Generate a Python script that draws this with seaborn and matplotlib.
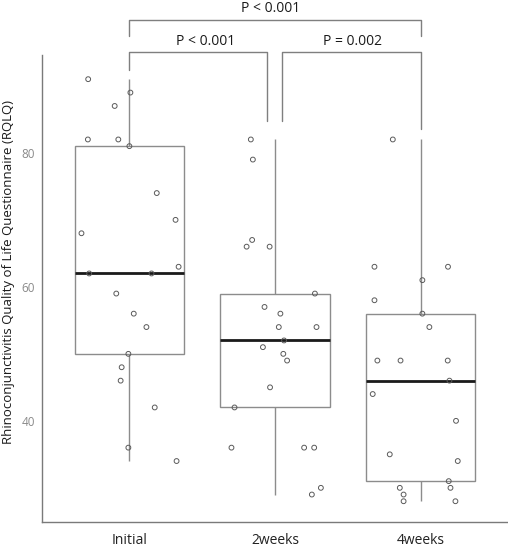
import numpy as np
import pandas as pd
import matplotlib
matplotlib.use("Agg")
import matplotlib.pyplot as plt
import seaborn as sns

# ---- data ----
groups = ["Initial", "2weeks", "4weeks"]

initial_vals = [91, 89, 87, 82, 82, 81, 74, 70, 68, 63, 62, 62, 59, 56, 54, 50, 48, 46, 42, 36, 34]
initial_jit = [-0.283, 0.007, -0.101, -0.285, -0.076, 0.0, 0.188, 0.317, -0.329, 0.338, -0.276,
               0.152, -0.09, 0.03, 0.117, -0.007, -0.053, -0.06, 0.174, -0.007, 0.324]

w2_vals = [82, 79, 67, 66, 66, 59, 57, 56, 54, 54, 52, 51, 50, 49, 45, 42, 36, 36, 36, 30, 29]
w2_jit = [-0.166, -0.152, -0.157, -0.195, -0.037, 0.274, -0.072, 0.037, 0.026, 0.285, 0.062,
          -0.083, 0.057, 0.083, -0.034, -0.278, -0.299, 0.2, 0.269, 0.315, 0.253]

w4_vals = [82, 63, 63, 61, 58, 56, 54, 49, 49, 49, 46, 44, 40, 35, 34, 31, 30, 30, 29, 28, 28]
w4_jit = [-0.191, -0.317, 0.188, 0.012, -0.317, 0.012, 0.06, -0.297, -0.138, 0.186, 0.198,
          -0.329, 0.243, -0.212, 0.255, 0.193, 0.205, -0.143, -0.117, -0.117, 0.239]

y_ticks = [40, 60, 80]
y_label = "Rhinoconjunctivitis Quality of Life Questionnaire (RQLQ)"

# comparisons: (left group, right group, label)
comparisons = [("Initial", "2weeks", "P < 0.001"),
               ("2weeks", "4weeks", "P = 0.002"),
               ("Initial", "4weeks", "P < 0.001")]

# ---- build long table ----
all_vals = [initial_vals, w2_vals, w4_vals]
all_jit = [initial_jit, w2_jit, w4_jit]
rows = []
for gi, (g, vals, jit) in enumerate(zip(groups, all_vals, all_jit)):
    for v, j in zip(vals, jit):
        rows.append({"group": g, "value": v, "xpos": gi + j})
df = pd.DataFrame(rows)

sns.set_style("white")
plt.rcParams["font.family"] = ["Open Sans", "DejaVu Sans"]

fig = plt.figure(figsize=(5.08, 5.5), dpi=100)
ax = fig.add_axes([0.0827, 0.0509, 0.9173, 0.849])

box_gray = "#8c8c8c"
sns.boxplot(data=df, x="group", y="value", order=groups, ax=ax,
            color="white", linecolor=box_gray, linewidth=1.0, width=0.75,
            showfliers=False, showcaps=False, saturation=1,
            medianprops=dict(color="#1a1a1a", linewidth=2.0))

sns.scatterplot(data=df, x="xpos", y="value", ax=ax, marker="o", s=12,
                facecolor="none", edgecolor="#5a5a5a", linewidth=0.7, zorder=4,
                legend=False)

ax.set_xlim(-0.6, 2.6)
ax.set_ylim(24.9, 94.6)
ax.set_yticks(y_ticks)
ax.set_yticklabels([str(t) for t in y_ticks])
ax.set_xticks(range(len(groups)))
ax.set_xticklabels(groups)
ax.set_xlabel("")
ax.set_ylabel(y_label, fontsize=9.5, color="#1a1a1a")
ax.yaxis.set_label_coords(-0.058, 0.535)

for s in ["top", "right"]:
    ax.spines[s].set_visible(False)
for s in ["left", "bottom"]:
    ax.spines[s].set_color("#7a7a7a")
    ax.spines[s].set_linewidth(1.0)

ax.tick_params(axis="y", length=3, width=0.8, color="#9a9a9a", labelsize=8.5,
               labelcolor="#8a8a8a", pad=2)
ax.tick_params(axis="x", length=3, width=0.8, color="#bbbbbb", labelsize=10,
               labelcolor="#222222", pad=5)

# ---- significance brackets ----
br_col = "#7f7f7f"
pos = {g: i for i, g in enumerate(groups)}
lower_y = 95.0
lower_txt = 96.6
c = comparisons[0]
x0, x1 = pos[c[0]], pos[c[1]] - 0.055
ax.plot([x0, x0, x1, x1], [92.4, lower_y, lower_y, 84.8], color=br_col, lw=1.0, clip_on=False)
ax.text((x0 + x1) / 2 + 0.05, lower_txt, c[2], ha="center", va="center",
        fontsize=10, color="#1a1a1a", clip_on=False)
c = comparisons[1]
x0, x1 = pos[c[0]] + 0.046, pos[c[1]]
ax.plot([x0, x0, x1, x1], [84.8, lower_y, lower_y, 83.5], color=br_col, lw=1.0, clip_on=False)
ax.text((x0 + x1) / 2 + 0.01, lower_txt, c[2], ha="center", va="center",
        fontsize=10, color="#1a1a1a", clip_on=False)
top_y = 99.9
c = comparisons[2]
x0, x1 = pos[c[0]], pos[c[1]]
ax.plot([x0, x0, x1, x1], [97.5, top_y, top_y, 97.5], color=br_col, lw=1.0, clip_on=False)
ax.text((x0 + x1) / 2 - 0.03, 101.5, c[2], ha="center", va="center",
        fontsize=10, color="#1a1a1a", clip_on=False)

fig.savefig("out.png", dpi=100)
